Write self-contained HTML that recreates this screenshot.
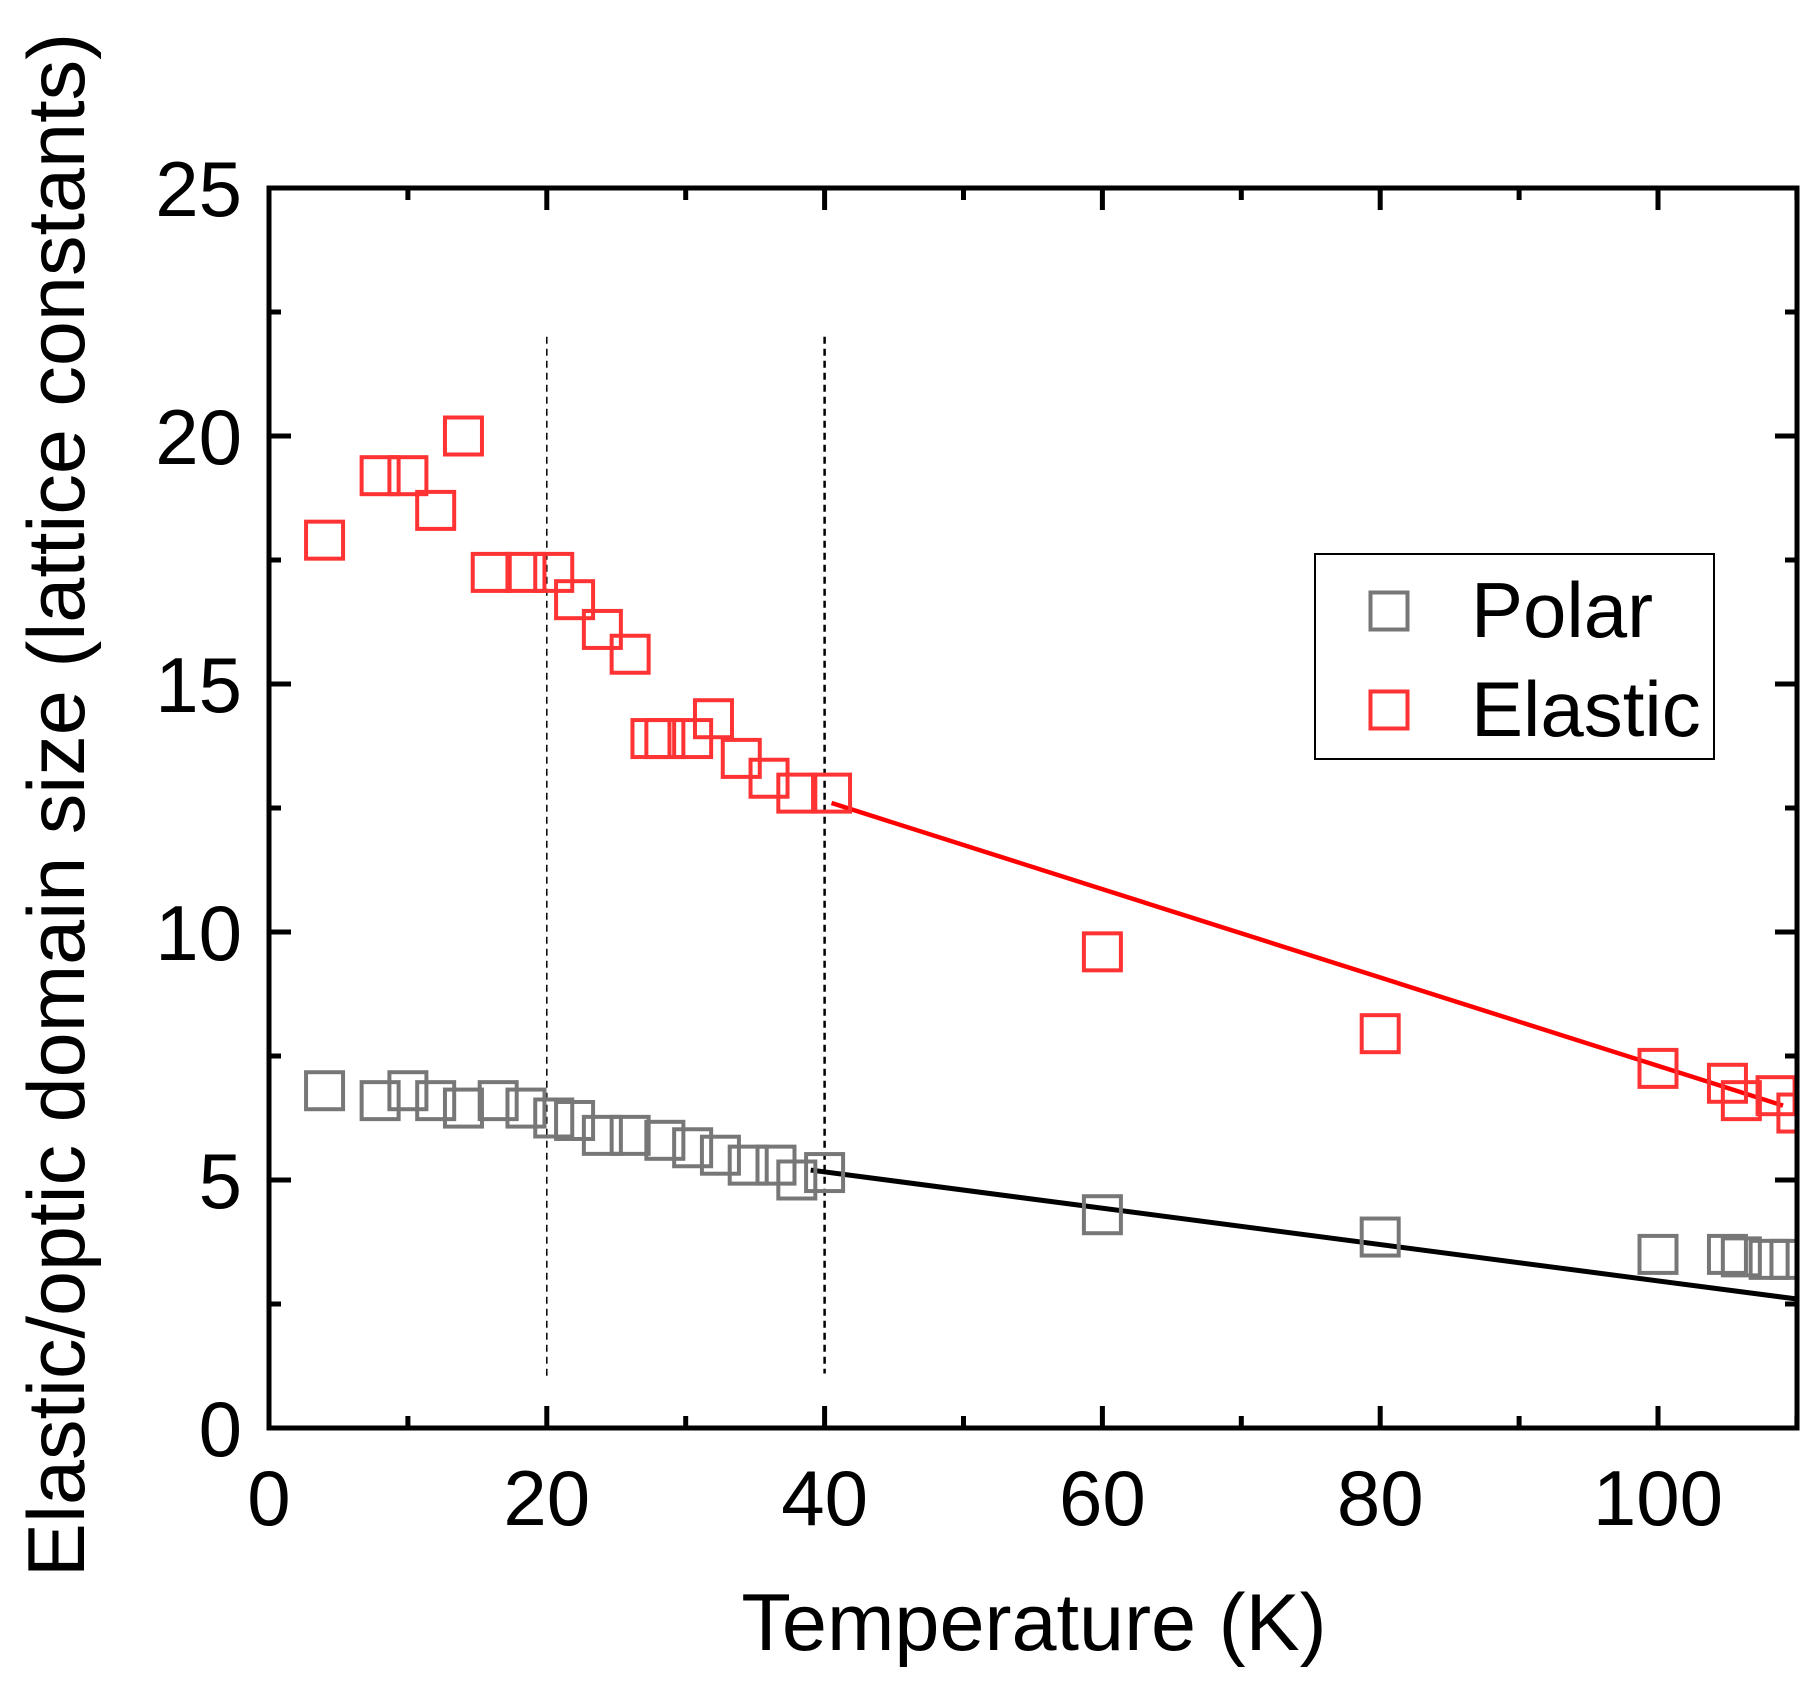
<!DOCTYPE html>
<html><head><meta charset="utf-8"><style>
html,body{margin:0;padding:0;background:#fff}
svg{display:block}
text{font-family:"Liberation Sans",Arial,sans-serif;fill:#000}
</style></head><body>
<svg id="s" width="1819" height="1681" viewBox="0 0 1819 1681" xmlns="http://www.w3.org/2000/svg"></svg>
<script>
const X=t=>269+13.89*t, Y=v=>1428-49.6*v;
let h='';
h+=`<line x1="${X(20)}" y1="${Y(22)}" x2="${X(20)}" y2="${Y(1)}" stroke="#000" stroke-width="1.5" stroke-dasharray="7,5"/>`;
h+=`<line x1="${X(40)}" y1="${Y(22)}" x2="${X(40)}" y2="${Y(1.1)}" stroke="#000" stroke-width="2.5" stroke-dasharray="7,5"/>`;
h+=`<line x1="${X(40.5)}" y1="${Y(12.6)}" x2="${X(109)}" y2="${Y(6.5)}" stroke="#ff0000" stroke-width="4.5"/>`;
h+=`<line x1="${X(39)}" y1="${Y(5.2)}" x2="${X(110)}" y2="${Y(2.6)}" stroke="#000" stroke-width="5"/>`;
const red=[[4,17.9],[8,19.2],[10,19.2],[12,18.5],[14,20],[16,17.25],[18.5,17.25],[20.5,17.25],[22,16.7],[24,16.1],[26,15.6],[27.5,13.9],[28.5,13.9],[30.5,13.9],[32,14.3],[34,13.5],[36,13.1],[38,12.8],[40.5,12.8],[60,9.6],[80,7.95],[100,7.25],[105,6.95],[106,6.6],[108.5,6.7],[110,6.35]];
const gr=[[4,6.8],[8,6.6],[10,6.8],[12,6.6],[14,6.45],[16.5,6.6],[18.5,6.45],[20.5,6.25],[22,6.2],[24,5.9],[26,5.9],[28.5,5.8],[30.5,5.65],[32.5,5.5],[34.5,5.3],[36.5,5.3],[38,5.0],[40,5.15],[60,4.3],[80,3.85],[100,3.5],[105,3.5],[106,3.45],[108,3.4],[109.5,3.4]];
const m=37;
h+='<g fill="none" stroke="#777" stroke-width="4">';
gr.forEach(([t,v])=>h+=`<rect x="${X(t)-m/2}" y="${Y(v)-m/2}" width="${m}" height="${m}"/>`);
h+='</g><g fill="none" stroke="#f33" stroke-width="4">';
red.forEach(([t,v])=>h+=`<rect x="${X(t)-m/2}" y="${Y(v)-m/2}" width="${m}" height="${m}"/>`);
h+='</g>';
h+=`<rect x="1799" y="0" width="30" height="1681" fill="#fff"/>`;
h+=`<rect x="269" y="188" width="1528" height="1240" fill="none" stroke="#000" stroke-width="5"/>`;
for(let t=0;t<=110;t+=10){const maj=t%20==0,L=maj?22:12,x=X(t);
 h+=`<line x1="${x}" y1="1428" x2="${x}" y2="${1428-L}" stroke="#000" stroke-width="5"/><line x1="${x}" y1="188" x2="${x}" y2="${188+L}" stroke="#000" stroke-width="5"/>`;
 if(maj)h+=`<text x="${x}" y="1525" font-size="78" text-anchor="middle">${t}</text>`;}
for(let v=0;v<=25;v+=2.5){const maj=v%5==0,L=maj?22:12,y=Y(v);
 h+=`<line x1="269" y1="${y}" x2="${269+L}" y2="${y}" stroke="#000" stroke-width="5"/><line x1="1797" y1="${y}" x2="${1797-L}" y2="${y}" stroke="#000" stroke-width="5"/>`;
 if(maj)h+=`<text x="242" y="${y+28}" font-size="78" text-anchor="end">${v}</text>`;}
h+=`<text x="1034" y="1650" font-size="81" text-anchor="middle">Temperature (K)</text>`;
h+=`<text transform="translate(84,805) rotate(-90)" font-size="81" text-anchor="middle">Elastic/optic domain size (lattice constants)</text>`;
h+=`<rect x="1315" y="554" width="399" height="205" fill="#fff" stroke="#000" stroke-width="2"/>`;
h+=`<rect x="${1389-m/2}" y="${611-m/2}" width="${m}" height="${m}" fill="none" stroke="#777" stroke-width="4"/>`;
h+=`<rect x="${1389-m/2}" y="${710-m/2}" width="${m}" height="${m}" fill="none" stroke="#f33" stroke-width="4"/>`;
h+=`<text x="1471" y="637" font-size="78">Polar</text>`;
h+=`<text x="1471" y="736" font-size="78">Elastic</text>`;
document.getElementById('s').innerHTML=h;
</script>
</body></html>
